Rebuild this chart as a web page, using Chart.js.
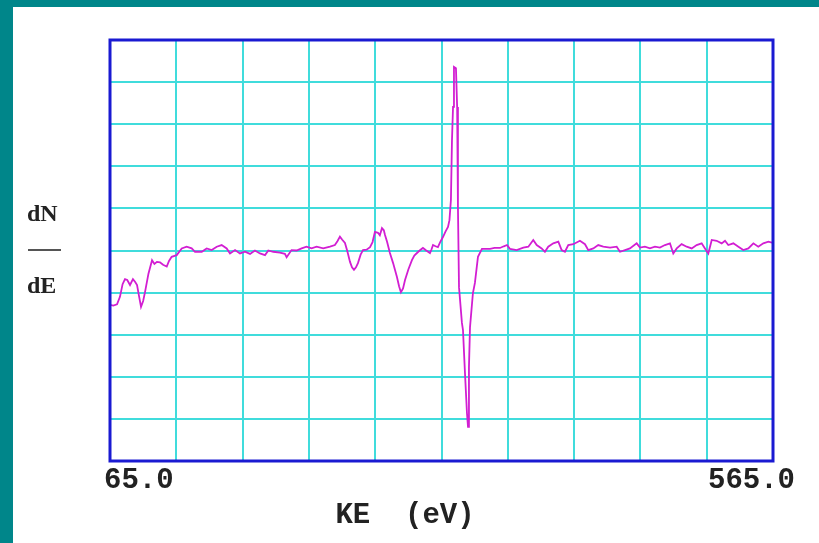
<!DOCTYPE html>
<html lang="en">
<head>
    <meta charset="UTF-8">
    <title>dN/dE vs KE</title>
    <script src="https://cdn.jsdelivr.net/npm/chart.js"></script>
    <style>
        html, body {
            margin: 0;
            padding: 0;
            background: #00868a;
            width: 819px;
            height: 543px;
            overflow: hidden;
        }
        #panel {
            position: absolute;
            left: 13px;
            top: 7px;
            width: 806px;
            height: 536px;
            background: #ffffff;
        }
    </style>
</head>
<body>
<div id="panel">
    <canvas id="spectrum" width="806" height="536"></canvas>
</div>
<script>
    // kinetic energy (eV)
    const energy = [
        65.0, 67.5, 70.3, 72.5, 74.5, 76.3, 78.0, 80.1, 82.3, 84.0, 85.4, 87.0, 88.4, 90.0, 91.4, 94.0, 96.7, 98.5, 100.4,
        102.7, 105.0, 107.8, 109.5, 111.5, 115.3, 119.1, 122.8, 126.6, 129.1, 134.2, 137.9, 141.7, 145.5, 149.2, 153.0, 155.5, 159.3, 163.0, 166.8,
        170.6, 174.3, 178.1, 181.9, 184.4, 188.1, 193.2, 196.9, 198.2, 201.9, 205.7, 209.5, 213.2, 217.0, 220.8, 225.8, 230.9, 234.6, 236.5, 238.4,
        240.0, 242.2, 244.0, 246.0, 247.5, 249.0, 250.5, 252.0, 254.0, 255.8, 258.5, 261.1, 263.0, 264.8, 267.1, 268.5, 270.1, 271.5, 272.4, 274.0,
        276.1, 278.5, 281.4, 283.0, 284.4, 286.0, 287.5, 290.0, 292.7, 294.5, 296.5, 298.5, 301.0, 303.5, 306.3, 307.5, 308.6, 310.5, 312.3, 314.0,
        316.1, 318.0, 319.9, 321.0, 322.1, 322.9, 323.7, 324.4, 325.9, 326.8, 327.4, 328.2, 330.4, 331.2, 332.7, 334.2, 335.0, 335.7, 336.5, 338.7,
        340.2, 342.5, 345.5, 348.5, 351.6, 355.0, 359.1, 362.0, 364.4, 366.6, 371.7, 376.7, 380.5, 384.2, 386.8, 390.5, 393.0, 395.5, 399.3, 403.1,
        405.6, 408.1, 410.6, 414.4, 419.4, 423.2, 425.7, 429.5, 433.2, 437.0, 442.1, 447.1, 449.6, 453.4, 457.1, 462.2, 464.7, 468.4, 472.2, 476.0,
        479.7, 483.5, 487.3, 489.8, 492.4, 496.1, 499.9, 503.7, 507.4, 511.2, 513.7, 516.2, 518.8, 522.5, 526.3, 528.8, 531.3, 535.1, 538.9, 542.6,
        546.4, 550.2, 553.9, 557.7, 561.5, 565.0
    ];

    // derivative signal, in grid divisions (0 = bottom, 10 = top)
    const dNdE = [
        3.71, 3.69, 3.72, 3.90, 4.20, 4.32, 4.30, 4.18, 4.32, 4.25, 4.18, 3.90, 3.66, 3.80, 4.01, 4.45, 4.77, 4.68, 4.73,
        4.72, 4.66, 4.62, 4.75, 4.85, 4.89, 5.05, 5.09, 5.05, 4.97, 4.97, 5.05, 5.01, 5.09, 5.13, 5.05, 4.93, 5.01, 4.93, 4.97,
        4.92, 5.00, 4.93, 4.89, 5.00, 4.97, 4.95, 4.92, 4.84, 5.01, 5.00, 5.05, 5.09, 5.05, 5.09, 5.05, 5.09, 5.13, 5.22, 5.33,
        5.26, 5.18, 4.98, 4.73, 4.60, 4.54, 4.60, 4.70, 4.90, 5.01, 5.02, 5.08, 5.20, 5.44, 5.42, 5.36, 5.53, 5.48, 5.37, 5.20,
        4.94, 4.70, 4.37, 4.15, 4.01, 4.10, 4.30, 4.55, 4.77, 4.88, 4.94, 5.00, 5.06, 5.00, 4.94, 5.03, 5.13, 5.10, 5.08, 5.20,
        5.32, 5.45, 5.56, 5.72, 6.20, 7.62, 8.41, 9.36, 9.33, 8.41, 6.03, 4.13, 3.28, 3.11, 2.09, 1.14, 0.81, 2.23, 3.18, 3.99,
        4.23, 4.85, 5.04, 5.04, 5.04, 5.06, 5.06, 5.10, 5.13, 5.04, 5.01, 5.07, 5.09, 5.25, 5.13, 5.05, 4.97, 5.09, 5.17, 5.21,
        5.01, 4.97, 5.13, 5.15, 5.23, 5.15, 5.01, 5.05, 5.13, 5.09, 5.07, 5.09, 4.97, 5.01, 5.05, 5.17, 5.07, 5.09, 5.05, 5.09,
        5.07, 5.13, 5.17, 4.93, 5.05, 5.15, 5.09, 5.05, 5.13, 5.17, 5.05, 4.93, 5.25, 5.23, 5.17, 5.23, 5.13, 5.17, 5.09, 5.01,
        5.05, 5.17, 5.09, 5.17, 5.21, 5.18
    ];

    // only the two ends of the energy axis carry labels
    const xTickLabels = [65.0, 565.0];
    const xTitle = 'KE  (eV)';
    const yTitleTop = 'dN';
    const yTitleBottom = 'dE';

    const textPlugin = {
        id: 'frameText',
        afterDraw(chart) {
            const ctx = chart.ctx;
            const area = chart.chartArea;
            const xs = chart.scales.x;

            // blue frame round the plot
            ctx.save();
            ctx.strokeStyle = '#1a1ad2';
            ctx.lineWidth = 3;
            ctx.strokeRect(area.left, area.top, area.right - area.left, area.bottom - area.top);

            // end labels of the energy axis
            ctx.fillStyle = '#222222';
            ctx.font = 'bold 29px "Liberation Mono", monospace';
            ctx.textBaseline = 'middle';
            ctx.textAlign = 'left';
            ctx.fillText(xTickLabels[0].toFixed(1), xs.getPixelForValue(xTickLabels[0]) - 6, 474);
            ctx.textAlign = 'right';
            ctx.fillText(xTickLabels[1].toFixed(1), xs.getPixelForValue(xTickLabels[1]) + 22, 474);

            // axis title under the plot
            ctx.textAlign = 'center';
            ctx.fillText(xTitle, 392, 509);

            // dN over dE
            ctx.font = 'bold 24px "Liberation Serif", serif';
            ctx.textAlign = 'left';
            ctx.fillText(yTitleTop, 14, 208);
            ctx.fillText(yTitleBottom, 14, 280);
            ctx.strokeStyle = '#555555';
            ctx.lineWidth = 2;
            ctx.beginPath();
            ctx.moveTo(15, 243);
            ctx.lineTo(48, 243);
            ctx.stroke();
            ctx.restore();
        }
    };

    const gridColor = '#40dcdc';

    new Chart(document.getElementById('spectrum').getContext('2d'), {
        type: 'line',
        data: {
            labels: energy,
            datasets: [{
                data: energy.map((e, i) => ({ x: e, y: dNdE[i] })),
                borderColor: '#d21ed2',
                borderWidth: 1.8,
                pointRadius: 0,
                tension: 0,
                fill: false
            }]
        },
        options: {
            responsive: false,
            animation: false,
            layout: {
                padding: { left: 97, top: 33, right: 46, bottom: 82 }
            },
            plugins: {
                legend: { display: false },
                tooltip: { enabled: false }
            },
            scales: {
                x: {
                    type: 'linear',
                    min: 65,
                    max: 565,
                    ticks: { display: false, stepSize: 50 },
                    grid: { color: gridColor, lineWidth: 2, drawTicks: false },
                    border: { display: false }
                },
                y: {
                    min: 0,
                    max: 10,
                    ticks: { display: false, stepSize: 1 },
                    grid: { color: gridColor, lineWidth: 2, drawTicks: false },
                    border: { display: false }
                }
            }
        },
        plugins: [textPlugin]
    });
</script>
</body>
</html>
